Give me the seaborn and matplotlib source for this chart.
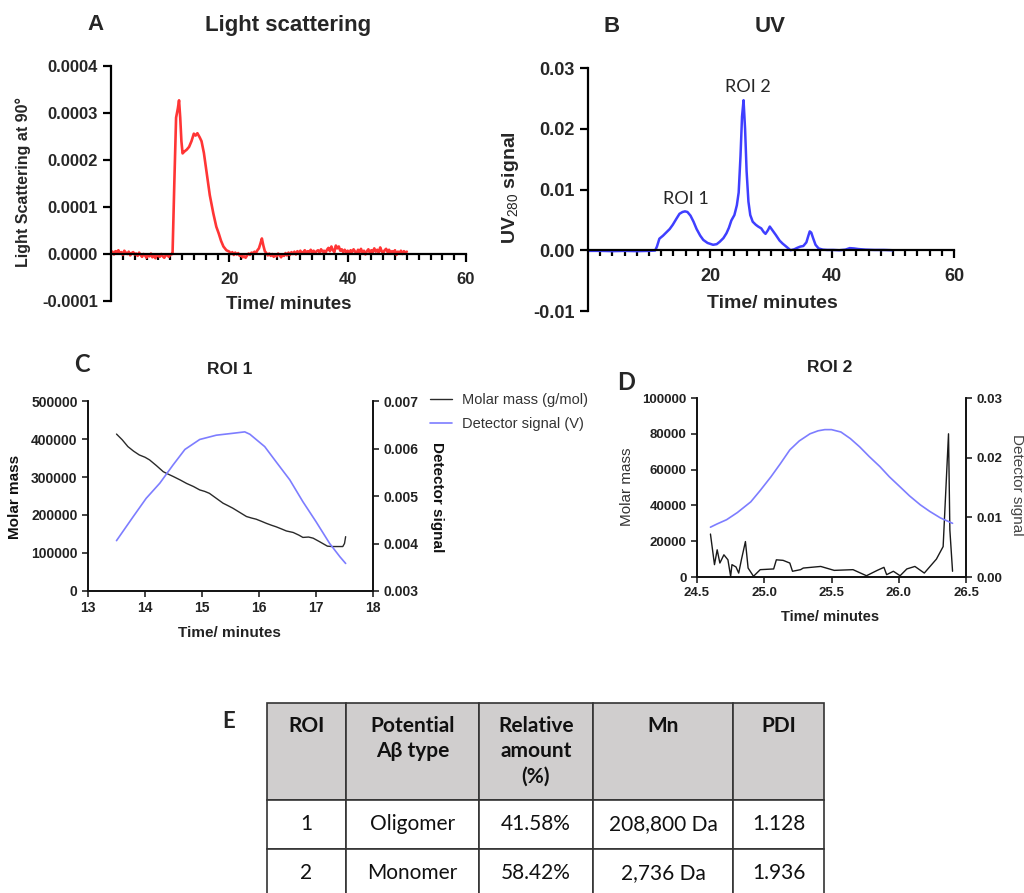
import numpy as np
import pandas as pd
import seaborn as sns
import matplotlib.pyplot as plt

# ---------------- data ----------------
# A: light scattering at 90 deg (values in 1e-6)
ls_base1 = [2, 5, -1, 6, 3, 8, 1, 4, -2, 7, 3, 0, 5, -3, 2, 4, -1, 1, -4, 3, -2,
            -6, 0, -3, -8, -2, -5, 1, -7, -3, -9, -2, -4, -6, 0, -5, -8, -3, -1, -6, -2, 0]
ls_peak_t = [10.4, 10.7, 11.0, 11.3, 11.5, 11.7, 11.9, 12.1, 12.4, 12.8, 13.2, 13.6, 14.0,
             14.3, 14.6, 15.0, 15.3, 15.7, 16.2, 16.7, 17.3, 17.8, 18.2, 18.6, 19.0, 19.5]
ls_peak_v = [0, 150, 290, 310, 327, 290, 240, 214, 218, 222, 228, 240, 256,
             252, 257, 248, 240, 215, 170, 125, 86, 58, 44, 28, 16, 8]
ls_base2 = [5, 0, 4, -2, 3, -1, 2, -4, -2, -7, -5, -8, -3, 1, -2, 3, 1, 5, 2, 8,
            12, 22, 33, 18, 6, 2, -3, 1, -4, 0, -6, -2, -5, 1, -3, -7, -1, -4, 2, -3,
            3, -2, 4, 0, 5, -1, 6, 2, 7, 1, 4, 8, 2, 6, 3, 9, 4, 7, 1, 6,
            8, 3, 10, 5, 7, 2, 9, 13, 6, 16, 8, 4, 18, 12, 16, 7, 10, 4, 9, 3,
            7, 2, 8, 4, 10, 5, 1, 9, 4, 11, 3, 7, -1, 6, 10, 2, 8, 4, 12, 5,
            9, 3, 14, 6, 2, 8, 11, 4, 9, 1, 6, 3, 8, -2, 5, 2, 7, 0, 6, 3, 5]

# B: UV280 signal (values in 1e-3)
uv_t = [0, 2, 4, 6, 8, 10, 11.0, 11.3, 11.7, 12.3, 12.8, 13.4, 13.9, 14.5, 15.0, 15.5,
        15.9, 16.3, 16.8, 17.3, 17.8, 18.4, 18.9, 19.6, 20.5, 21.1, 21.6, 22.2, 22.7, 23.1,
        23.5, 24.0, 24.4, 24.7, 25.0, 25.25, 25.5, 25.75, 26.0, 26.3, 26.6, 27.0, 27.5, 27.9,
        28.4, 28.8, 29.1, 29.5, 29.8, 30.3, 30.8, 31.4, 31.9, 32.5, 33.2, 33.8, 34.3, 34.8,
        35.3, 35.8, 36.1, 36.35, 36.6, 36.9, 37.3, 37.8, 38.5, 39.2, 40.2, 41.2, 42.2, 42.9,
        43.6, 44.3, 45.5, 47, 48.5, 49.9]
uv_v = [-0.1, -0.1, -0.15, -0.1, -0.15, -0.1, -0.05, 0.6, 1.9, 2.4, 2.9, 3.5, 4.2, 5.2, 6.0, 6.3,
        6.4, 6.3, 5.7, 4.7, 3.5, 2.4, 1.7, 1.2, 0.9, 1.0, 1.4, 2.0, 2.8, 3.7,
        4.9, 5.8, 7.4, 9.5, 15.5, 22.0, 24.7, 20.0, 13.0, 8.0, 5.8, 4.7, 4.2, 3.9,
        3.6, 3.0, 2.7, 3.3, 3.9, 3.2, 2.5, 1.6, 1.1, 0.6, 0.0, 0.15, 0.4, 0.6,
        0.7, 1.3, 2.3, 3.1, 2.9, 2.0, 0.9, 0.3, 0.1, 0.05, 0.05, 0.0, 0.1, 0.35,
        0.3, 0.2, 0.1, 0.05, 0.05, 0.0]

# C: ROI 1
roi1_mm_t = [13.5, 13.6, 13.7, 13.8, 13.9, 14.0, 14.08, 14.2, 14.32, 14.4, 14.5, 14.62, 14.73,
             14.85, 14.96, 15.05, 15.13, 15.25, 15.37, 15.45, 15.54, 15.66, 15.78, 15.87, 15.95,
             16.05, 16.13, 16.22, 16.3, 16.4, 16.48, 16.6, 16.7, 16.77, 16.87, 16.95, 17.06,
             17.13, 17.2, 17.28, 17.36, 17.47, 17.5, 17.52]
roi1_mm_v = [413, 398, 380, 368, 358, 352, 345, 330, 314, 308, 301, 292, 283,
             275, 266, 262, 257, 244, 231, 225, 218, 207, 196, 192, 189,
             183, 178, 173, 169, 163, 158, 154, 147, 141, 142, 139, 130,
             124, 118, 117, 117, 117, 125, 143]  # x1000 g/mol
roi1_det_t = [13.5, 13.79, 14.02, 14.26, 14.49, 14.7, 14.96, 15.25, 15.54, 15.75, 15.84,
              16.1, 16.3, 16.54, 16.77, 17.0, 17.24, 17.42, 17.52]
roi1_det_v = [4.06, 4.56, 4.95, 5.27, 5.65, 5.98, 6.19, 6.28, 6.32, 6.35, 6.30,
              6.04, 5.72, 5.34, 4.88, 4.46, 4.0, 3.72, 3.58]  # x1e-3 V

# D: ROI 2
roi2_mm_t = [24.6, 24.63, 24.65, 24.67, 24.7, 24.73, 24.75, 24.76, 24.79, 24.81, 24.83, 24.86,
             24.88, 24.92, 24.97, 25.07, 25.09, 25.14, 25.19, 25.21, 25.27, 25.29, 25.42, 25.52,
             25.66, 25.76, 25.84, 25.89, 25.91, 25.96, 26.01, 26.06, 26.12, 26.19, 26.28, 26.33,
             26.37, 26.38, 26.4]
roi2_mm_v = [24000, 6900, 15200, 7800, 12400, 9600, 400, 6900, 5600, 2200, 9600, 19800,
             5000, 400, 4100, 4500, 9600, 9300, 7800, 3200, 4100, 5000, 5900, 3700,
             4100, 700, 3700, 5400, 1300, 3200, 700, 4500, 5900, 2200, 10000, 17000,
             80000, 26300, 3200]
roi2_det_t = [24.6, 24.65, 24.72, 24.8, 24.9, 24.97, 25.05, 25.12, 25.19, 25.26, 25.34, 25.4,
              25.45, 25.5, 25.57, 25.64, 25.71, 25.78, 25.86, 25.93, 26.01, 26.08, 26.16,
              26.23, 26.31, 26.36, 26.4]
roi2_det_v = [8.35, 8.9, 9.6, 10.8, 12.6, 14.5, 16.8, 19.0, 21.3, 22.8, 24.0, 24.5,
              24.7, 24.7, 24.3, 23.2, 21.8, 20.2, 18.5, 16.8, 15.1, 13.6, 12.1,
              11.0, 9.9, 9.4, 9.0]  # x1e-3 V

# E: table
table_header = ["ROI\n\n", "Potential\nAβ type\n", "Relative\namount\n(%)", "Mn\n\n", "PDI\n\n"]
table_rows = [["1", "Oligomer", "41.58%", "208,800 Da", "1.128"],
              ["2", "Monomer", "58.42%", "2,736 Da", "1.936"]]

# ---------------- figure ----------------
sns.set_style("ticks")
plt.rcParams['font.family'] = ['Liberation Sans', 'DejaVu Sans']
plt.rcParams['mathtext.fontset'] = 'custom'
plt.rcParams['mathtext.rm'] = 'Liberation Sans'
plt.rcParams['mathtext.default'] = 'rm'
CAL = ['Lato', 'Open Sans', 'DejaVu Sans']

W, H = 1024, 893
fig = plt.figure(figsize=(W / 100, H / 100), dpi=100)


def box(x0, y0, x1, y1):
    return [x0 / W, 1 - y1 / H, (x1 - x0) / W, (y1 - y0) / H]


def ftext(x, y, s, **kw):
    fig.text(x / W, 1 - y / H, s, ha='center', va='center', **kw)


def label_xy(ax, axis, s, x, y, **kw):
    if axis == 'x':
        ax.set_xlabel(s, **kw)
        ax.xaxis.set_label_coords(x, y)
        ax.xaxis.label.set_va('center')
    else:
        ax.set_ylabel(s, **kw)
        ax.yaxis.set_label_coords(x, y)
        ax.yaxis.label.set_va('center')


# ---- A
t_ls = np.concatenate([np.linspace(0, 10.25, len(ls_base1)), ls_peak_t,
                       np.linspace(20, 50, len(ls_base2))])
v_ls = np.concatenate([ls_base1, ls_peak_v, ls_base2]) * 1e-6
df_ls = pd.DataFrame({"t": t_ls, "v": v_ls})

axA = fig.add_axes(box(111, 66, 466, 301))
sns.lineplot(data=df_ls, x="t", y="v", ax=axA, color='#ff3535', linewidth=1.9, estimator=None)
axA.set_xlim(0, 60)
axA.set_ylim(-0.0001, 0.0004)
yt = [-0.0001, 0, 0.0001, 0.0002, 0.0003, 0.0004]
axA.set_yticks(yt, labels=[f'{v:.4f}' for v in yt], fontsize=12, fontweight='bold')
label_xy(axA, 'x', 'Time/ minutes', 0.5, -0.017, fontsize=13.5, fontweight='bold')
label_xy(axA, 'y', 'Light Scattering at 90°', -0.248, 0.506, fontsize=11.5, fontweight='bold')

# ---- B
df_uv = pd.DataFrame({"t": uv_t, "v": np.array(uv_v) * 1e-3})
axB = fig.add_axes(box(588, 68, 954, 311))
sns.lineplot(data=df_uv, x="t", y="v", ax=axB, color='#3f3fff', linewidth=1.8, estimator=None)
axB.set_xlim(0, 60)
axB.set_ylim(-0.01, 0.03)
yt = [-0.01, 0, 0.01, 0.02, 0.03]
axB.set_yticks(yt, labels=[f'{v:.2f}' for v in yt], fontsize=13, fontweight='bold')
label_xy(axB, 'x', 'Time/ minutes', 0.503, 0.029, fontsize=14, fontweight='bold')
label_xy(axB, 'y', 'UV$_{280}$ signal', -0.213, 0.506, fontsize=14, fontweight='bold')
axB.text(16.1, 0.0084, 'ROI 1', ha='center', va='center', fontsize=13, family=CAL)
axB.text(26.2, 0.0268, 'ROI 2', ha='center', va='center', fontsize=13, family=CAL)

for ax, fs, pad in [(axA, 12, 7), (axB, 13, 6.5)]:
    ax.spines['bottom'].set_position(('data', 0))
    for s in ['top', 'right']:
        ax.spines[s].set_visible(False)
    for s in ['left', 'bottom']:
        ax.spines[s].set_linewidth(1.6)
        ax.spines[s].set_color('black')
    ax.set_xticks([20, 40, 60], labels=['20', '40', '60'], fontsize=fs, fontweight='bold')
    ax.set_xticks([m for m in range(2, 60, 2) if m % 20], minor=True)
    ax.tick_params(axis='both', which='major', direction='out', width=1.6, length=6,
                   color='black', bottom=True, left=True)
    ax.tick_params(axis='x', which='major', pad=pad)
    ax.tick_params(axis='x', which='minor', direction='out', width=1.6, length=4,
                   color='black', bottom=True)

ftext(95, 25, 'A', fontsize=16, fontweight='bold')
ftext(288, 25, 'Light scattering', fontsize=16, fontweight='bold')
ftext(612, 27, 'B', fontsize=16, fontweight='bold')
ftext(770, 27, 'UV', fontsize=16, fontweight='bold')

# ---- C
axC = fig.add_axes(box(88, 401, 373, 591))
axC2 = axC.twinx()
sns.lineplot(x=roi1_mm_t, y=np.array(roi1_mm_v) * 1000, ax=axC, color='#2a2a2a',
             linewidth=1.0, estimator=None, label='Molar mass (g/mol)', legend=False)
sns.lineplot(x=roi1_det_t, y=np.array(roi1_det_v) * 1e-3, ax=axC2, color='#7d7dff',
             linewidth=1.2, estimator=None, label='Detector signal (V)', legend=False)
axC.set_xlim(13, 18)
axC.set_ylim(0, 500000)
axC2.set_ylim(0.003, 0.007)
xt = [13, 14, 15, 16, 17, 18]
axC.set_xticks(xt, labels=[str(v) for v in xt], fontsize=10, fontweight='bold', color='#222')
yt = list(range(0, 500001, 100000))
axC.set_yticks(yt, labels=[str(v) for v in yt], fontsize=10, fontweight='bold', color='#222')
yt2 = [0.003, 0.004, 0.005, 0.006, 0.007]
axC2.set_yticks(yt2, labels=[f'{v:.3f}' for v in yt2], fontsize=10, fontweight='bold', color='#222')
label_xy(axC, 'x', 'Time/ minutes', 0.498, -0.221, fontsize=11, fontweight='bold', color='#222')
label_xy(axC, 'y', 'Molar mass', -0.256, 0.495, fontsize=11, fontweight='bold', color='#111')
label_xy(axC2, 'y', 'Detector signal', 1.225, 0.495, fontsize=11, fontweight='bold',
         color='#111', rotation=270)

h1, l1 = axC.get_legend_handles_labels()
h2, l2 = axC2.get_legend_handles_labels()
fig.legend(h1 + h2, l1 + l2, loc='upper left', bbox_to_anchor=(417 / W, 1 - 380 / H),
           frameon=False, fontsize=10.5, handlelength=1.5, handletextpad=0.7,
           labelspacing=0.65, labelcolor='#333')
ftext(82, 364, 'C', fontsize=17, fontweight='bold', family=CAL)
ftext(230, 369, 'ROI 1', fontsize=12.5, fontweight='bold', color='#222')

# ---- D
axD = fig.add_axes(box(697, 398, 966, 577))
axD2 = axD.twinx()
sns.lineplot(x=roi2_mm_t, y=roi2_mm_v, ax=axD, color='#1a1a1a', linewidth=1.0, estimator=None)
sns.lineplot(x=roi2_det_t, y=np.array(roi2_det_v) * 1e-3, ax=axD2, color='#7d7dff',
             linewidth=1.2, estimator=None)
axD.set_xlim(24.5, 26.5)
axD.set_ylim(0, 100000)
axD2.set_ylim(0, 0.03)
xt = [24.5, 25.0, 25.5, 26.0, 26.5]
axD.set_xticks(xt, labels=[f'{v:.1f}' for v in xt], fontsize=9.5, fontweight='bold', color='#222')
yt = list(range(0, 100001, 20000))
axD.set_yticks(yt, labels=[str(v) for v in yt], fontsize=9.5, fontweight='bold', color='#222')
yt2 = [0, 0.01, 0.02, 0.03]
axD2.set_yticks(yt2, labels=[f'{v:.2f}' for v in yt2], fontsize=9.5, fontweight='bold', color='#222')
label_xy(axD, 'x', 'Time/ minutes', 0.494, -0.223, fontsize=10.5, fontweight='bold', color='#222')
label_xy(axD, 'y', 'Molar mass', -0.26, 0.503, fontsize=11, color='#333')
label_xy(axD2, 'y', 'Detector signal', 1.19, 0.514, fontsize=11, color='#444', rotation=270)
ftext(626, 383, 'D', fontsize=17, fontweight='bold', family=CAL)
ftext(830, 368, 'ROI 2', fontsize=12.5, fontweight='bold', color='#222')

for ax in [axC, axC2, axD, axD2]:
    ax.spines['top'].set_visible(False)
    for s in ['left', 'bottom', 'right']:
        ax.spines[s].set_linewidth(1.2)
        ax.spines[s].set_color('#111')
    ax.tick_params(axis='both', width=1.1, length=4, color='#111')
    ax.grid(False)

# ---- E: table
axT = fig.add_axes(box(267, 703, 824, 898))
axT.axis('off')
tbl = axT.table(cellText=table_rows, colLabels=table_header, colWidths=[79, 133, 114, 140, 91],
                cellLoc='center', bbox=[0, 0, 1, 1])
tbl.auto_set_font_size(False)
for (r, c), cell in tbl.get_celld().items():
    cell.set_height(97 if r == 0 else 49)
    cell.set_edgecolor('#333')
    cell.set_linewidth(1.2)
    txt = cell.get_text()
    txt.set_fontfamily(CAL)
    txt.set_fontsize(15)
    txt.set_color('#111')
    if r == 0:
        cell.set_facecolor('#d0cece')
        txt.set_fontweight('bold')
        txt.set_linespacing(1.35)
ftext(229, 722, 'E', fontsize=16, fontweight='bold', family=CAL)

fig.savefig('out.png', dpi=100)
